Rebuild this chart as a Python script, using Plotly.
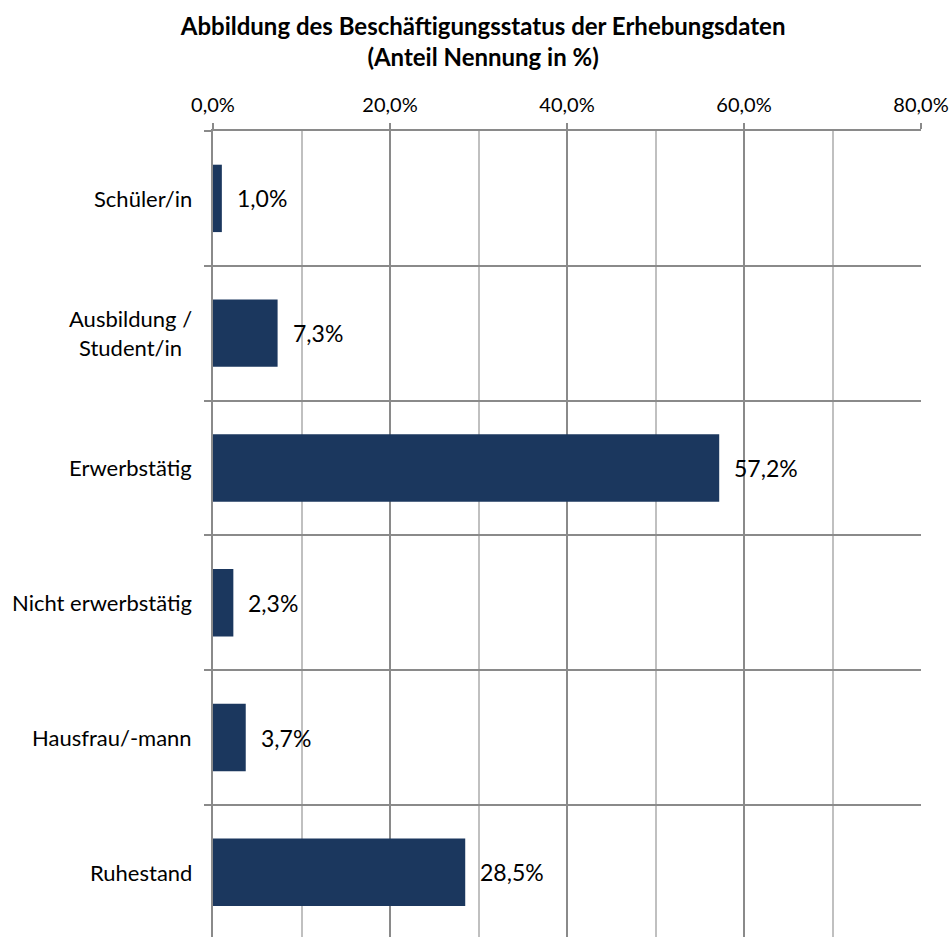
import plotly.graph_objects as go

# Beschäftigungsstatus (Anteil Nennung in %)
categories = ["Schüler/in", "Ausbildung /<br>Student/in", "Erwerbstätig",
              "Nicht erwerbstätig", "Hausfrau/-mann", "Ruhestand"]
values = [1.0, 7.3, 57.2, 2.3, 3.7, 28.5]
tick_values = [0, 20, 40, 60, 80]
tick_labels = ["0,0%", "20,0%", "40,0%", "60,0%", "80,0%"]

FONT = "Lato, 'Open Sans', sans-serif"
BAR_COLOR = "#1B375E"
MAJOR = "#8A8A8A"
MINOR = "#C0C0C0"


def de_pct(v):
    return f"{v:.1f}".replace(".", ",") + "%"


fig = go.Figure(
    go.Bar(
        x=values,
        y=categories,
        orientation="h",
        width=0.5,
        marker=dict(color=BAR_COLOR, line=dict(width=0)),
        hoverinfo="skip",
    )
)

# value labels to the right of each bar
for cat, v in zip(categories, values):
    fig.add_annotation(
        x=v, y=cat, xref="x", yref="y",
        text=de_pct(v), showarrow=False,
        xanchor="left", yanchor="middle", xshift=13,
        font=dict(family=FONT, size=23, color="#000000"),
    )

# category labels, centred line by line, right edge next to the axis
for cat in categories:
    fig.add_annotation(
        x=0, y=cat, xref="paper", yref="y",
        text=cat, showarrow=False, align="center",
        xanchor="right", yanchor="middle", xshift=-19,
        font=dict(family=FONT, size=22, color="#000000"),
    )

fig.update_layout(
    width=951, height=937,
    margin=dict(l=213, r=30, t=131, b=0),
    paper_bgcolor="white", plot_bgcolor="white",
    showlegend=False,
    title=dict(
        text="<b>Abbildung des Beschäftigungsstatus der Erhebungsdaten<br>(Anteil Nennung in %)</b>",
        x=0.508, xanchor="center", y=1 - 35 / 937, yanchor="middle",
        font=dict(family=FONT, size=24, color="#000000"),
    ),
    font=dict(family=FONT, color="#000000"),
)

fig.update_xaxes(
    side="top", range=[0, 80],
    tickvals=tick_values, ticktext=tick_labels,
    tickfont=dict(family=FONT, size=20, color="#000000"),
    ticks="outside", ticklen=6, tickcolor=MAJOR, tickwidth=1.5,
    ticklabelstandoff=3,
    showgrid=True, gridcolor=MAJOR, gridwidth=1.5,
    showline=True, linecolor=MAJOR, linewidth=1.5,
    zeroline=False,
    minor=dict(dtick=10, showgrid=True, gridcolor=MINOR, gridwidth=1.5, ticks=""),
    fixedrange=True,
)

fig.update_yaxes(
    type="category", categoryorder="array", categoryarray=categories,
    range=[5.48, -0.5],
    tickson="boundaries",
    ticks="outside", ticklen=7, tickcolor=MAJOR, tickwidth=1.5,
    showgrid=True, gridcolor=MAJOR, gridwidth=1.5,
    showline=True, linecolor=MAJOR, linewidth=1.5,
    showticklabels=False,
    zeroline=False,
    fixedrange=True,
)

fig.write_html("out.html")
